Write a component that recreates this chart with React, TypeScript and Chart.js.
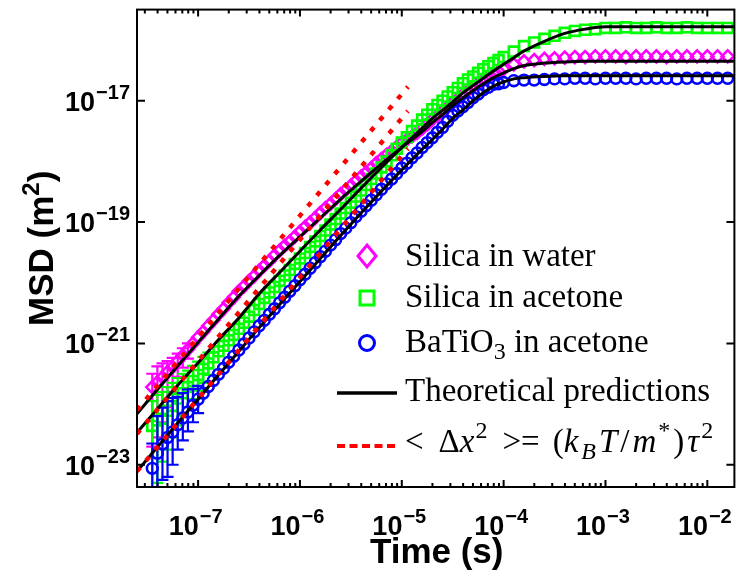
import React, { useEffect, useRef } from "react";
import { Chart, registerables } from "chart.js";

Chart.register(...registerables);

// ---------- data (log10 values) ----------
// time grid of the measured points, log10(t / s)
const tData = [
  -7.45, -7.40, -7.35, -7.30, -7.25, -7.20, -7.15, -7.10, -7.05, -7.00,
  -6.95, -6.90, -6.85, -6.80, -6.75, -6.70, -6.65, -6.60, -6.55, -6.50,
  -6.45, -6.40, -6.35, -6.30, -6.25, -6.20, -6.15, -6.10, -6.05, -6.00,
  -5.95, -5.90, -5.85, -5.80, -5.75, -5.70, -5.65, -5.60, -5.55, -5.50,
  -5.45, -5.40, -5.35, -5.30, -5.25, -5.20, -5.15, -5.10, -5.05, -5.00,
  -4.95, -4.90, -4.85, -4.80, -4.75, -4.70, -4.65, -4.60, -4.55, -4.50,
  -4.45, -4.40, -4.35, -4.30, -4.25, -4.20, -4.15, -4.10, -4.05, -4.00,
  -3.90, -3.80, -3.70, -3.60, -3.50, -3.40, -3.30, -3.20, -3.10, -3.00, -2.90,
  -2.80, -2.70, -2.60, -2.50, -2.40, -2.30, -2.20, -2.10, -2.00, -1.90, -1.80,
];

// log10(MSD / m^2), silica in water
const silicaWater = [
  -21.72, -21.64, -21.56, -21.47, -21.39, -21.29, -21.20, -21.10, -21.00, -20.90,
  -20.81, -20.71, -20.62, -20.52, -20.43, -20.33, -20.24, -20.14, -20.06, -19.97,
  -19.89, -19.80, -19.72, -19.64, -19.55, -19.47, -19.39, -19.32, -19.24, -19.16,
  -19.08, -19.01, -18.93, -18.85, -18.77, -18.70, -18.62, -18.54, -18.47, -18.40,
  -18.32, -18.25, -18.18, -18.11, -18.03, -17.96, -17.89, -17.83, -17.76, -17.69,
  -17.64, -17.59, -17.53, -17.46, -17.39, -17.31, -17.25, -17.18, -17.11, -17.03,
  -16.97, -16.90, -16.83, -16.77, -16.72, -16.66, -16.61, -16.56, -16.52, -16.48,
  -16.40, -16.35, -16.33, -16.31, -16.30, -16.29, -16.28, -16.28, -16.27, -16.27, -16.27,
  -16.28, -16.27, -16.27, -16.27, -16.28, -16.27, -16.27, -16.27, -16.27, -16.27, -16.27,
];

// silica in acetone
const silicaAcetone = [
  -22.36, -22.27, -22.24, -22.11, -22.03, -21.91, -21.82, -21.72, -21.62, -21.52,
  -21.42, -21.33, -21.23, -21.13, -21.04, -20.95, -20.86, -20.76, -20.66, -20.56,
  -20.45, -20.35, -20.25, -20.16, -20.07, -19.97, -19.88, -19.79, -19.69, -19.60,
  -19.51, -19.41, -19.32, -19.23, -19.14, -19.04, -18.95, -18.86, -18.77, -18.68,
  -18.58, -18.48, -18.39, -18.29, -18.20, -18.10, -18.00, -17.90, -17.79, -17.69,
  -17.60, -17.50, -17.41, -17.31, -17.23, -17.14, -17.07, -17.00, -16.93, -16.86,
  -16.79, -16.71, -16.65, -16.60, -16.54, -16.48, -16.43, -16.38, -16.33, -16.28,
  -16.19, -16.10, -16.04, -15.98, -15.93, -15.88, -15.85, -15.83, -15.82, -15.80, -15.80,
  -15.79, -15.80, -15.80, -15.79, -15.80, -15.80, -15.79, -15.80, -15.80, -15.80, -15.80,
];

// BaTiO3 in acetone
const batio3Acetone = [
  -23.06, -22.81, -22.66, -22.55, -22.46, -22.34, -22.23, -22.13, -22.02, -21.92,
  -21.82, -21.71, -21.61, -21.51, -21.41, -21.31, -21.21, -21.11, -21.01, -20.91,
  -20.81, -20.71, -20.62, -20.52, -20.43, -20.33, -20.24, -20.14, -20.05, -19.95,
  -19.86, -19.76, -19.67, -19.57, -19.48, -19.38, -19.29, -19.19, -19.10, -19.01,
  -18.91, -18.82, -18.73, -18.64, -18.55, -18.46, -18.37, -18.29, -18.20, -18.11,
  -18.03, -17.94, -17.86, -17.77, -17.69, -17.61, -17.52, -17.44, -17.34, -17.24,
  -17.17, -17.10, -17.03, -16.95, -16.89, -16.82, -16.78, -16.73, -16.72, -16.70,
  -16.67, -16.66, -16.66, -16.65, -16.64, -16.64, -16.63, -16.63, -16.64, -16.63, -16.63,
  -16.63, -16.64, -16.63, -16.63, -16.63, -16.64, -16.63, -16.63, -16.63, -16.63, -16.63,
];

// error bars on the first points (upper / lower ends, log10)
const silicaWaterErrHi = [-21.50, -21.38, -21.33, -21.29, -21.24, -21.17, -21.08, -21.00];
const silicaWaterErrLo = [-22.70, -22.55, -22.30, -22.05, -21.80, -21.55, -21.40, -21.25];
const silicaAcetoneErrHi = [-21.95, -21.85, -21.80, -21.72, -21.65, -21.57, -21.50, -21.45, -21.37, -21.30, -21.22, -21.15];
const silicaAcetoneErrLo = [-23.60, -23.30, -22.95, -22.75, -22.55, -22.35, -22.20, -22.05, -21.92, -21.78, -21.65, -21.52];
const batio3ErrHi = [-22.65, -22.20, -22.06, -21.95, -21.90, -21.88, -21.82, -21.76, -21.75, -21.70];
const batio3ErrLo = [-24.50, -24.50, -23.25, -23.20, -23.00, -22.75, -22.60, -22.45, -22.30, -22.15];

// theoretical predictions
const tTheory = [
  -7.6, -7.4, -7.2, -7.0, -6.8, -6.6, -6.4, -6.2, -6.0, -5.8, -5.6, -5.4, -5.2, -5.0,
  -4.9, -4.8, -4.7, -4.6, -4.5, -4.4, -4.3, -4.2, -4.1, -4.0, -3.9, -3.8, -3.6, -3.4,
  -3.2, -3.0, -2.6, -2.2, -1.74,
];
const theoryWater = [
  -22.16, -21.76, -21.37, -20.98, -20.60, -20.22, -19.88, -19.55, -19.24, -18.93, -18.62, -18.33, -18.04, -17.77,
  -17.64, -17.51, -17.36, -17.23, -17.08, -16.95, -16.83, -16.72, -16.62, -16.54, -16.47, -16.42, -16.38, -16.36,
  -16.35, -16.35, -16.35, -16.35, -16.35,
];
const theoryAcetone = [
  -22.47, -22.08, -21.69, -21.32, -20.94, -20.58, -20.18, -19.83, -19.48, -19.13, -18.79, -18.44, -18.10, -17.77,
  -17.61, -17.45, -17.29, -17.16, -17.02, -16.87, -16.75, -16.63, -16.51, -16.40, -16.29, -16.18, -16.02, -15.89,
  -15.82, -15.78, -15.78, -15.78, -15.78,
];
const theoryBatio3 = [
  -23.11, -22.71, -22.31, -21.92, -21.52, -21.13, -20.74, -20.36, -19.98, -19.60, -19.22, -18.85, -18.49, -18.14,
  -17.97, -17.80, -17.64, -17.47, -17.29, -17.15, -17.00, -16.87, -16.76, -16.69, -16.64, -16.62, -16.60, -16.59,
  -16.59, -16.59, -16.59, -16.59, -16.59,
];

// ballistic lines <dx^2> = (kT/m*) tau^2 : end points
const tBallistic = [-7.6, -4.94];
const ballisticWater = [-22.10, -16.77];
const ballisticAcetone = [-22.49, -17.17];
const ballisticBatio3 = [-23.11, -17.79];

// axes
const xMin = -7.6;
const xMax = -1.734;
const yMin = -23.367;
const yMax = -15.498;
const xTickExp = [-7, -6, -5, -4, -3, -2];
const yTickExp = [-17, -19, -21, -23];

// ---------- styling ----------
const MAGENTA = "#ff00ff";
const GREEN = "#00ff00";
const BLUE = "#0000ff";
const RED = "#ff0000";
const SANS = '"Liberation Sans", Arial, Helvetica, sans-serif';
const SERIF = '"Liberation Serif", "Times New Roman", serif';

type Part = [string, string];
const legendItems: { mark: string; color: string; parts: Part[] }[] = [
  { mark: "diamond", color: MAGENTA, parts: [["Silica in water", "n"]] },
  { mark: "square", color: GREEN, parts: [["Silica in acetone", "n"]] },
  { mark: "circle", color: BLUE, parts: [["BaTiO", "n"], ["3", "sub"], [" in acetone", "n"]] },
  { mark: "line", color: "#000000", parts: [["Theoretical predictions", "n"]] },
  {
    mark: "dash",
    color: RED,
    parts: [
      ["<", "n"], ["15", "gap"], ["Δ", "n"], ["x", "i"], ["1", "gap"], ["2", "sup"], ["15", "gap"], [">", "n"], ["=", "n"], ["13", "gap"],
      ["(", "n"], ["k", "i"], ["3", "gap"], ["B", "isub"], ["3", "gap"], ["T", "i"], ["3", "gap"], ["/", "n"], ["3", "gap"],
      ["m", "i"], ["2", "gap"], ["*", "sup"], ["3", "gap"], [")", "n"], ["3", "gap"], ["τ", "i"], ["2", "gap"], ["2", "sup"],
    ],
  },
];

const toPts = (ts: number[], vs: number[]) => ts.map((t, i) => ({ x: Math.pow(10, t), y: Math.pow(10, vs[i]) }));

const errorBars: Record<string, { hi: number[]; lo: number[] }> = {
  "Silica in water": { hi: silicaWaterErrHi, lo: silicaWaterErrLo },
  "Silica in acetone": { hi: silicaAcetoneErrHi, lo: silicaAcetoneErrLo },
  "BaTiO3 in acetone": { hi: batio3ErrHi, lo: batio3ErrLo },
};

function drawParts(ctx: CanvasRenderingContext2D, parts: Part[], x: number, baseline: number) {
  let cx = x;
  ctx.textAlign = "left";
  ctx.textBaseline = "alphabetic";
  for (const [txt, st] of parts) {
    if (st === "gap") {
      cx += Number(txt);
      continue;
    }
    let font = `33px ${SERIF}`;
    let dy = 0;
    if (st === "i") font = `italic 33px ${SERIF}`;
    else if (st === "sup") { font = `24px ${SERIF}`; dy = -14; }
    else if (st === "sub") { font = `24px ${SERIF}`; dy = 7; }
    else if (st === "isub") { font = `italic 24px ${SERIF}`; dy = 7; }
    ctx.font = font;
    ctx.fillText(txt, cx, baseline + dy);
    cx += ctx.measureText(txt).width;
  }
}

function drawPow(ctx: CanvasRenderingContext2D, e: number, x: number, y: number, mode: "right" | "center") {
  const base = "10";
  const exp = "−" + Math.abs(e);
  ctx.font = `bold 27px ${SANS}`;
  const wb = ctx.measureText(base).width;
  ctx.font = `bold 20px ${SANS}`;
  const we = ctx.measureText(exp).width;
  const x0 = mode === "right" ? x - wb - we : x - (wb + we) / 2;
  ctx.textAlign = "left";
  ctx.textBaseline = "alphabetic";
  ctx.font = `bold 27px ${SANS}`;
  ctx.fillText(base, x0, y);
  ctx.font = `bold 20px ${SANS}`;
  ctx.fillText(exp, x0 + wb + 1, y - 12);
}

const matlabPlugin = {
  id: "matlabAxes",
  beforeDraw(chart: any) {
    const { ctx, width, height } = chart;
    ctx.save();
    ctx.fillStyle = "#ffffff";
    ctx.fillRect(0, 0, width, height);
    ctx.restore();
  },
  afterDatasetDraw(chart: any, args: any) {
    const ds = chart.data.datasets[args.index];
    const eb = errorBars[ds.label];
    if (!eb) return;
    const { ctx, chartArea: a, scales } = chart;
    ctx.save();
    ctx.beginPath();
    ctx.rect(a.left, a.top, a.right - a.left, a.bottom - a.top);
    ctx.clip();
    ctx.strokeStyle = ds.borderColor;
    ctx.lineWidth = 2.2;
    eb.hi.forEach((hi, i) => {
      const px = scales.x.getPixelForValue(Math.pow(10, tData[i]));
      const pHi = scales.y.getPixelForValue(Math.pow(10, hi));
      const pLo = scales.y.getPixelForValue(Math.pow(10, eb.lo[i]));
      ctx.beginPath();
      ctx.moveTo(px, pHi);
      ctx.lineTo(px, pLo);
      ctx.moveTo(px - 6, pHi);
      ctx.lineTo(px + 6, pHi);
      ctx.moveTo(px - 6, pLo);
      ctx.lineTo(px + 6, pLo);
      ctx.stroke();
    });
    ctx.restore();
  },
  afterDraw(chart: any) {
    const { ctx, chartArea: a, scales } = chart;
    const xs = scales.x;
    const ys = scales.y;
    ctx.save();
    ctx.strokeStyle = "#000";
    ctx.fillStyle = "#000";
    ctx.lineWidth = 2;
    ctx.setLineDash([]);
    ctx.strokeRect(a.left, a.top, a.right - a.left, a.bottom - a.top);
    // x ticks (major + minor), inward, bottom and top
    ctx.beginPath();
    for (let d = -8; d <= -2; d++) {
      for (let k = 1; k <= 9; k++) {
        const px = xs.getPixelForValue(k * Math.pow(10, d));
        if (px <= a.left + 1 || px >= a.right - 1) continue;
        const len = k === 1 ? 7 : 4;
        ctx.moveTo(px, a.bottom);
        ctx.lineTo(px, a.bottom - len);
        ctx.moveTo(px, a.top);
        ctx.lineTo(px, a.top + len);
      }
    }
    yTickExp.forEach((e) => {
      const py = ys.getPixelForValue(Math.pow(10, e));
      ctx.moveTo(a.left, py);
      ctx.lineTo(a.left + 8, py);
      ctx.moveTo(a.right, py);
      ctx.lineTo(a.right - 8, py);
    });
    ctx.stroke();

    // tick labels
    xTickExp.forEach((e) => {
      const px = xs.getPixelForValue(Math.pow(10, e));
      drawPow(ctx, e, px - 3, 535, "center");
    });
    yTickExp.forEach((e) => {
      const py = ys.getPixelForValue(Math.pow(10, e));
      drawPow(ctx, e, 129, py + 10, "right");
    });

    // axis titles
    ctx.font = `bold 35px ${SANS}`;
    ctx.textAlign = "center";
    ctx.textBaseline = "alphabetic";
    ctx.fillText("Time (s)", (a.left + a.right) / 2 + 1, 563);

    ctx.save();
    ctx.translate(53, (a.top + a.bottom) / 2);
    ctx.rotate(-Math.PI / 2);
    ctx.textAlign = "left";
    ctx.font = `bold 35px ${SANS}`;
    const w1 = ctx.measureText("MSD (m").width;
    const w3 = ctx.measureText(")").width;
    ctx.font = `bold 24px ${SANS}`;
    const w2 = ctx.measureText("2").width;
    let cx = -(w1 + w2 + w3) / 2;
    ctx.font = `bold 35px ${SANS}`;
    ctx.fillText("MSD (m", cx, 0);
    cx += w1;
    ctx.font = `bold 24px ${SANS}`;
    ctx.fillText("2", cx, -14);
    cx += w2;
    ctx.font = `bold 35px ${SANS}`;
    ctx.fillText(")", cx, 0);
    ctx.restore();

    // legend
    const markX = 367;
    const textX = 405;
    const rowCenter = [256, 298, 343, 393, 446];
    const rowBase = [266, 307, 352, 401, 452];
    legendItems.forEach((it, i) => {
      const cy = rowCenter[i];
      ctx.save();
      ctx.strokeStyle = it.color;
      ctx.lineWidth = 3;
      ctx.beginPath();
      if (it.mark === "diamond") {
        ctx.moveTo(markX, cy - 11);
        ctx.lineTo(markX + 9, cy);
        ctx.lineTo(markX, cy + 11);
        ctx.lineTo(markX - 9, cy);
        ctx.closePath();
        ctx.stroke();
      } else if (it.mark === "square") {
        ctx.rect(markX - 7, cy - 7, 14, 14);
        ctx.stroke();
      } else if (it.mark === "circle") {
        ctx.arc(markX, cy, 7.5, 0, Math.PI * 2);
        ctx.stroke();
      } else if (it.mark === "line") {
        ctx.lineWidth = 3.5;
        ctx.moveTo(337, cy);
        ctx.lineTo(397, cy);
        ctx.stroke();
      } else {
        ctx.lineWidth = 4;
        ctx.setLineDash([8, 4.5]);
        ctx.moveTo(337, cy);
        ctx.lineTo(396, cy);
        ctx.stroke();
      }
      ctx.restore();
      ctx.fillStyle = "#000";
      drawParts(ctx, it.parts, textX, rowBase[i]);
    });
    ctx.restore();
  },
};

export default function App() {
  const canvasRef = useRef<HTMLCanvasElement | null>(null);

  useEffect(() => {
    const canvas = canvasRef.current;
    if (!canvas) return;
    const hollow = "rgba(0,0,0,0)";
    const marker = (label: string, vals: number[], color: string, style: string, r: number, order: number) => ({
      label,
      data: toPts(tData, vals),
      showLine: false,
      borderColor: color,
      backgroundColor: hollow,
      pointStyle: style,
      pointRadius: r,
      pointBorderWidth: 2.6,
      pointBackgroundColor: hollow,
      pointBorderColor: color,
      clip: 0,
      order,
    });
    const line = (label: string, ts: number[], vals: number[], color: string, width: number, dash: number[], order: number) => ({
      label,
      data: toPts(ts, vals),
      showLine: true,
      borderColor: color,
      backgroundColor: color,
      borderWidth: width,
      borderDash: dash,
      borderCapStyle: "butt",
      pointRadius: 0,
      cubicInterpolationMode: "monotone",
      clip: 0,
      order,
    });

    const chart = new Chart(canvas, {
      type: "scatter",
      data: {
        datasets: [
          marker("Silica in water", silicaWater, MAGENTA, "rectRot", 6, 10),
          marker("Silica in acetone", silicaAcetone, GREEN, "rect", 7, 9),
          marker("BaTiO3 in acetone", batio3Acetone, BLUE, "circle", 5.4, 8),
          line("Theory silica in water", tTheory, theoryWater, "#000000", 3, [], 5),
          line("Theory silica in acetone", tTheory, theoryAcetone, "#000000", 3, [], 5),
          line("Theory BaTiO3 in acetone", tTheory, theoryBatio3, "#000000", 3, [], 5),
          line("Ballistic silica in water", tBallistic, ballisticWater, RED, 4.5, [5, 9], 1),
          line("Ballistic silica in acetone", tBallistic, ballisticAcetone, RED, 4.5, [5, 9], 1),
          line("Ballistic BaTiO3 in acetone", tBallistic, ballisticBatio3, RED, 4.5, [5, 9], 1),
        ] as any,
      },
      options: {
        animation: false,
        responsive: false,
        devicePixelRatio: 1,
        events: [],
        layout: { padding: { left: 137, top: 5, right: 1, bottom: 88 } },
        plugins: { legend: { display: false }, tooltip: { enabled: false }, title: { display: false } },
        scales: {
          x: { type: "logarithmic", display: false, min: Math.pow(10, xMin), max: Math.pow(10, xMax) },
          y: { type: "logarithmic", display: false, min: Math.pow(10, yMin), max: Math.pow(10, yMax) },
        },
      } as any,
      plugins: [matlabPlugin as any],
    });
    return () => chart.destroy();
  }, []);

  return (
    <div style={{ position: "fixed", left: 0, top: 0, width: 744, height: 575, background: "#fff" }}>
      <canvas ref={canvasRef} width={744} height={575} style={{ display: "block", width: 744, height: 575 }} />
    </div>
  );
}
